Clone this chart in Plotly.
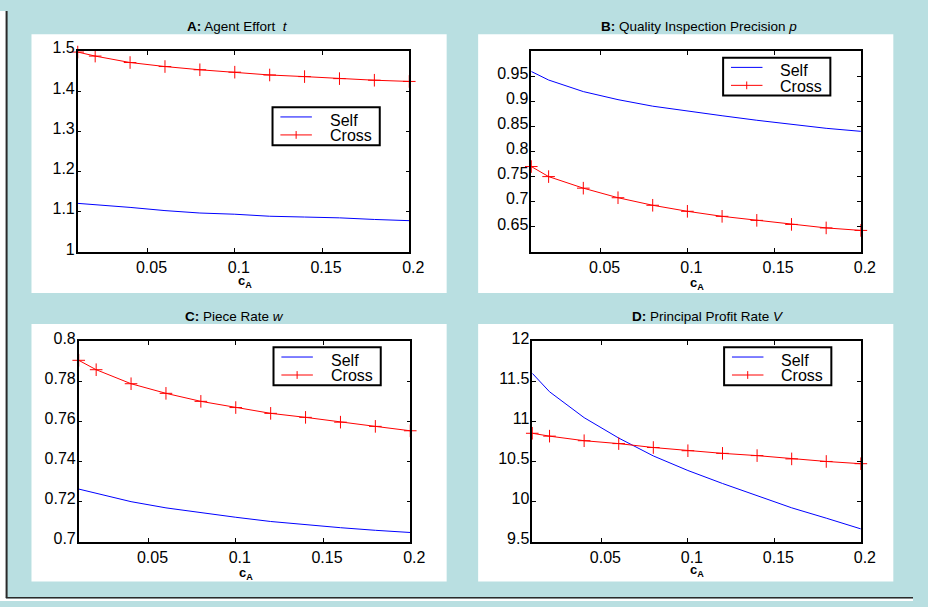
import plotly.graph_objects as go

W, H = 928, 607
FONT = "Liberation Sans, Arial, Helvetica, sans-serif"

# ---------------- data ----------------
c_A = [0.01, 0.02, 0.04, 0.06, 0.08, 0.10, 0.12, 0.14, 0.16, 0.18, 0.20]

effort_self = [1.121, 1.118, 1.111, 1.103, 1.097, 1.094, 1.089, 1.087, 1.085, 1.081, 1.078]
effort_cross = [1.497, 1.487, 1.471, 1.461, 1.453, 1.447, 1.440, 1.436, 1.431, 1.427, 1.424]

precision_self = [0.959, 0.942, 0.919, 0.903, 0.890, 0.880, 0.871, 0.862, 0.854, 0.846, 0.840]
precision_cross = [0.770, 0.750, 0.727, 0.708, 0.693, 0.681, 0.671, 0.663, 0.655, 0.648, 0.643]

piece_self = [0.7263, 0.7242, 0.7200, 0.7169, 0.7145, 0.7122, 0.7101, 0.7085, 0.7070, 0.7057, 0.7046]
piece_cross = [0.7906, 0.7859, 0.7789, 0.7741, 0.7701, 0.7670, 0.7641, 0.7621, 0.7597, 0.7576, 0.7554]

profit_self = [11.603, 11.372, 11.049, 10.794, 10.571, 10.389, 10.227, 10.073, 9.923, 9.794, 9.660]
profit_cross = [10.854, 10.818, 10.761, 10.725, 10.676, 10.636, 10.603, 10.575, 10.534, 10.502, 10.474]

series_names = ["Self", "Cross"]
x_ticks = [0.05, 0.1, 0.15, 0.2]
x_ticktext = ["0.05", "0.1", "0.15", "0.2"]

titles = [
    "<b>A:</b> Agent Effort\u00a0\u00a0<i>t</i>",
    "<b>B:</b> Quality Inspection Precision <i>p</i>",
    "<b>C:</b> Piece Rate <i>w</i>",
    "<b>D:</b> Principal Profit Rate <i>V</i>",
]
y_ranges = [[1.0, 1.5], [0.6, 1.0], [0.7, 0.8], [9.5, 12.0]]
y_ticks = [
    [1.0, 1.1, 1.2, 1.3, 1.4, 1.5],
    [0.65, 0.7, 0.75, 0.8, 0.85, 0.9, 0.95],
    [0.7, 0.72, 0.74, 0.76, 0.78, 0.8],
    [9.5, 10.0, 10.5, 11.0, 11.5, 12.0],
]
y_ticktext = [
    ["1", "1.1", "1.2", "1.3", "1.4", "1.5"],
    ["0.65", "0.7", "0.75", "0.8", "0.85", "0.9", "0.95"],
    ["0.7", "0.72", "0.74", "0.76", "0.78", "0.8"],
    ["9.5", "10", "10.5", "11", "11.5", "12"],
]
self_series = [effort_self, precision_self, piece_self, profit_self]
cross_series = [effort_cross, precision_cross, piece_cross, profit_cross]

# ---------------- layout geometry (pixels) ----------------
def px(x):
    return x / W

def py(y):
    return 1 - y / H

axes_px = [  # x0, x1, y_top, y_bottom
    (79, 416, 41, 248),
    (540, 875, 41, 248),
    (80, 417, 340, 546),
    (541, 875, 340, 546),
]
panels_px = [(32, 454, 24, 290), (486, 908, 24, 290), (32, 454, 322, 587), (486, 908, 322, 587)]
title_pos = [(241, 16), (710, 16), (238, 314), (720, 314)]
xlabel_pos = [(249, 278), (708, 280), (250, 579), (708, 576)]
legend_pos = [(277, 99), (735, 48), (278, 346), (736, 346)]

BG = "#b9dfe1"
BLUE = "#0000ff"
RED = "#ff0000"

fig = go.Figure()
shapes = []
annotations = []

# page border / white margins
shapes.append(dict(type="rect", xref="paper", yref="paper", x0=0, x1=px(6), y0=0, y1=1,
                   fillcolor="white", line=dict(width=0), layer="below"))
shapes.append(dict(type="rect", xref="paper", yref="paper", x0=0, x1=1, y0=0, y1=py(604.5),
                   fillcolor="white", line=dict(width=0), layer="below"))
shapes.append(dict(type="line", xref="paper", yref="paper", x0=px(6.7), x1=px(6.7), y0=py(604), y1=1,
                   line=dict(color="#2a2a2a", width=2)))
shapes.append(dict(type="line", xref="paper", yref="paper", x0=px(6), x1=1, y0=py(603.6), y1=py(603.6),
                   line=dict(color="#2a2a2a", width=1.5)))

for i in range(4):
    n = "" if i == 0 else str(i + 1)
    xa, ya = "x" + n, "y" + n
    x0, x1, yt, yb = axes_px[i]
    # white panel
    p0, p1, pt, pb = panels_px[i]
    shapes.append(dict(type="rect", xref="paper", yref="paper", x0=px(p0), x1=px(p1),
                       y0=py(pb), y1=py(pt), fillcolor="white", line=dict(width=0), layer="below"))

    fig.add_trace(go.Scatter(x=c_A, y=self_series[i], mode="lines", name=series_names[0],
                             line=dict(color=BLUE, width=1), xaxis=xa, yaxis=ya,
                             showlegend=False, cliponaxis=False))
    fig.add_trace(go.Scatter(x=c_A, y=cross_series[i], mode="lines+markers", name=series_names[1],
                             line=dict(color=RED, width=1),
                             marker=dict(symbol="cross-thin", size=9, color=RED,
                                         line=dict(color=RED, width=1)),
                             xaxis=xa, yaxis=ya, showlegend=False, cliponaxis=False))

    axis_common = dict(showline=True, linecolor="black", linewidth=1.5, mirror="ticks",
                       ticks="inside", ticklen=4, tickwidth=1, tickcolor="black",
                       showgrid=False, zeroline=False,
                       tickfont=dict(family=FONT, size=16, color="black"))
    fig.update_layout(**{
        "xaxis" + n: dict(domain=[px(x0), px(x1)], anchor=ya, range=[0.01, 0.2],
                          tickvals=x_ticks, ticktext=x_ticktext, ticklabelshift=4,
                          **axis_common),
        "yaxis" + n: dict(domain=[py(yb), py(yt)], anchor=xa, range=y_ranges[i],
                          tickvals=y_ticks[i], ticktext=y_ticktext[i],
                          ticklabelstandoff=-2, ticklabelshift=-3, **axis_common),
    })

    # title
    tx, ty = title_pos[i]
    annotations.append(dict(text=titles[i], x=px(tx), y=py(ty), xref="paper", yref="paper",
                            xanchor="center", yanchor="middle", showarrow=False,
                            font=dict(family=FONT, size=13.5, color="black")))
    # x label
    lx, ly = xlabel_pos[i]
    annotations.append(dict(text="<b>c<sub>A</sub></b>", x=px(lx), y=py(ly), xref="paper", yref="paper",
                            xanchor="center", yanchor="middle", showarrow=False,
                            font=dict(family=FONT, size=13, color="black")))

    # legend box (drawn by hand to match the compact MATLAB legend)
    bx, by = legend_pos[i]
    shapes.append(dict(type="rect", xref="paper", yref="paper", x0=px(bx), x1=px(bx + 109),
                       y0=py(by + 39), y1=py(by), fillcolor="white",
                       line=dict(color="black", width=2)))
    shapes.append(dict(type="line", xref="paper", yref="paper", x0=px(bx + 8), x1=px(bx + 40),
                       y0=py(by + 10), y1=py(by + 10), line=dict(color=BLUE, width=1)))
    shapes.append(dict(type="line", xref="paper", yref="paper", x0=px(bx + 8), x1=px(bx + 40),
                       y0=py(by + 28.5), y1=py(by + 28.5), line=dict(color=RED, width=1)))
    shapes.append(dict(type="line", xref="paper", yref="paper", x0=px(bx + 24), x1=px(bx + 24),
                       y0=py(by + 24.5), y1=py(by + 32.5), line=dict(color=RED, width=1)))
    annotations.append(dict(text=series_names[0], x=px(bx + 56), y=py(by + 13.5), xref="paper",
                            yref="paper", xanchor="left", yanchor="middle", showarrow=False,
                            font=dict(family=FONT, size=16, color="black")))
    annotations.append(dict(text=series_names[1], x=px(bx + 56), y=py(by + 29.5), xref="paper",
                            yref="paper", xanchor="left", yanchor="middle", showarrow=False,
                            font=dict(family=FONT, size=16, color="black")))

fig.update_layout(width=W, height=H, margin=dict(l=0, r=0, t=0, b=0, pad=0),
                  paper_bgcolor=BG, plot_bgcolor="white", showlegend=False,
                  shapes=shapes, annotations=annotations,
                  font=dict(family=FONT, size=16, color="black"))

fig.write_html("out.html", config={"responsive": False, "displayModeBar": False},
               post_script="document.body.style.margin='0';"
                           "document.documentElement.style.overflow='hidden';")
